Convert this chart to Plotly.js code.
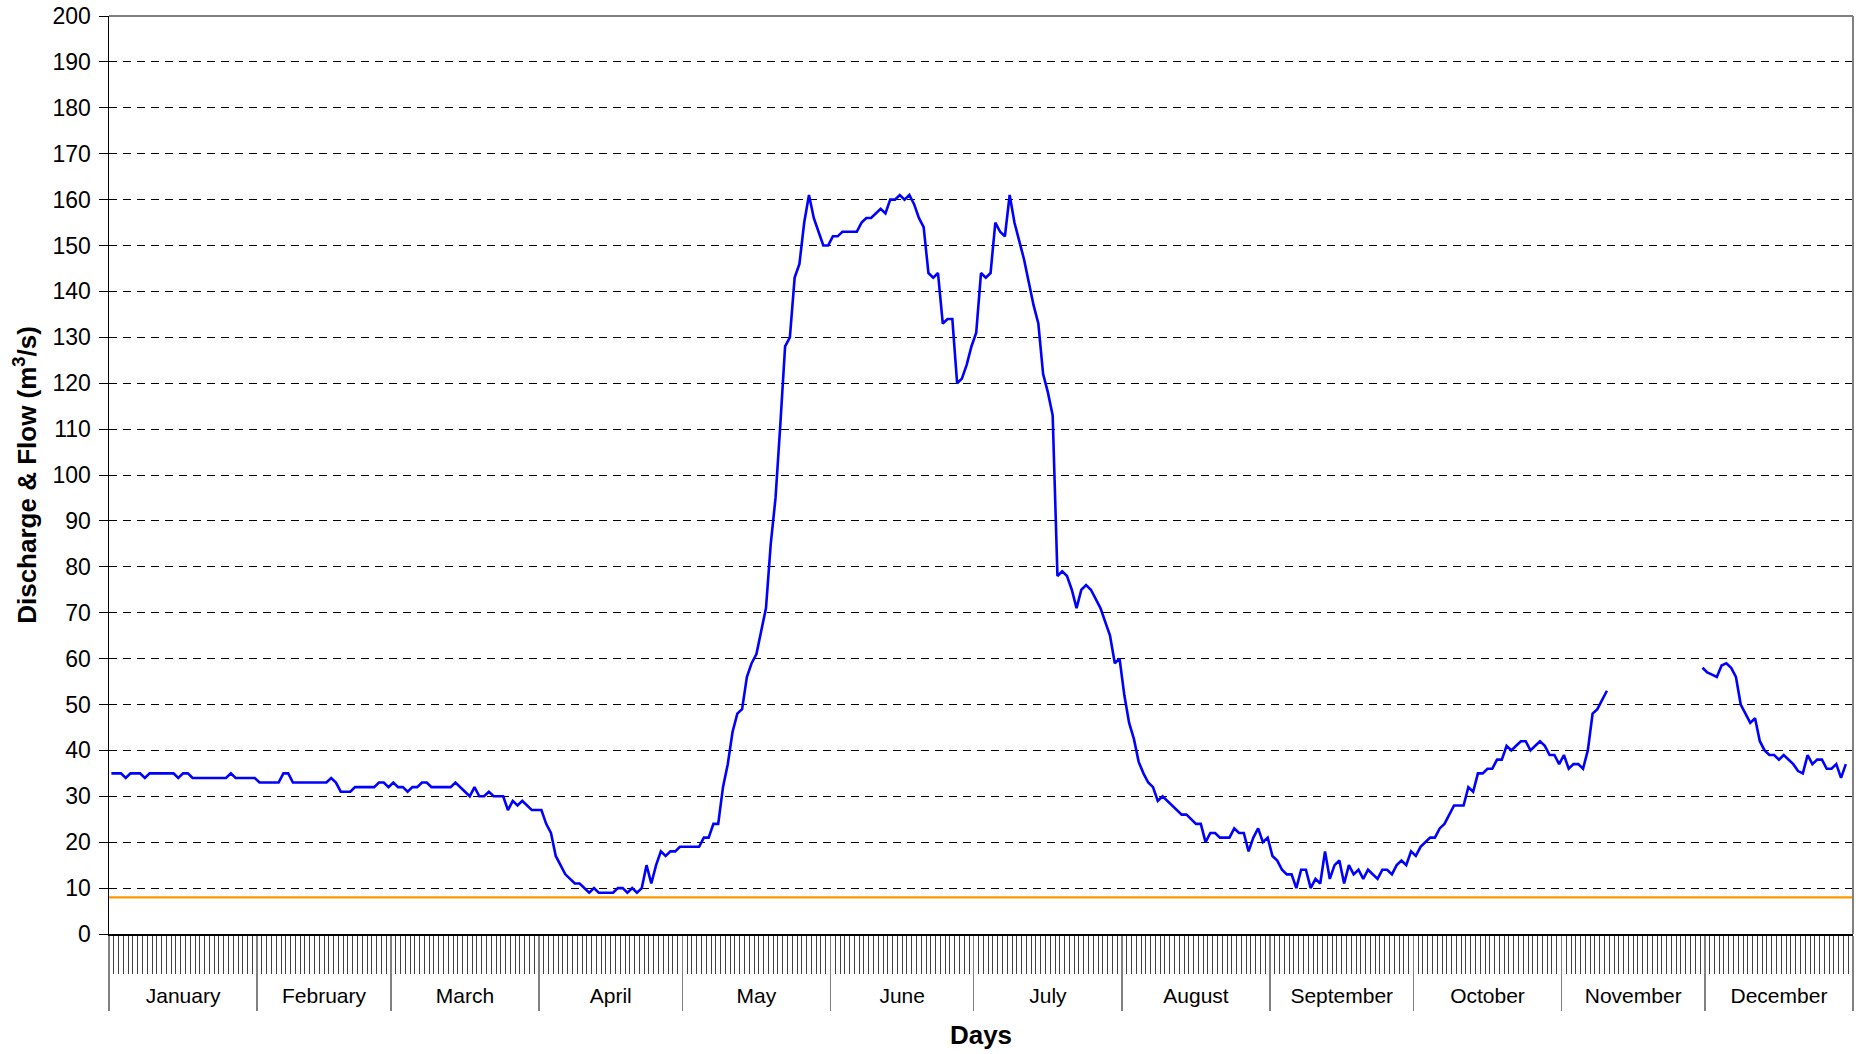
<!DOCTYPE html>
<html>
<head>
<meta charset="utf-8">
<script src="https://cdn.plot.ly/plotly-3.0.1.min.js"></script>
<style>
  html, body { margin: 0; padding: 0; background: #ffffff; }
  #chart { width: 1860px; height: 1054px; }
</style>
</head>
<body>
<div id="chart"></div>
<script>
// Month names and day counts (non-leap year, 365 days)
const monthNames = ["January","February","March","April","May","June","July","August","September","October","November","December"];
const monthDays = [31,28,31,30,31,30,31,31,30,31,30,31];

// Daily discharge (m3/s), one array per month
const janFlow = [35,35,35,34,35,35,35,34,35,35,35,35,35,35,34,35,35,34,34,34,34,34,34,34,34,35,34,34,34,34,34];
const febFlow = [33,33,33,33,33,35,35,33,33,33,33,33,33,33,33,34,33,31,31,31,32,32,32,32,32,33,33,32];
const marFlow = [33,32,32,31,32,32,33,33,32,32,32,32,32,33,32,31,30,32,30,30,31,30,30,30,27,29,28,29,28,27,27];
const aprFlow = [27,24,22,17,15,13,12,11,11,10,9,10,9,9,9,9,10,10,9,10,9,10,15,11,15,18,17,18,18,19];
const mayFlow = [19,19,19,19,21,21,24,24,32,37,44,48,49,56,59,61,66,71,85,95,111,128,130,143,146,155,161,156,153,150,150];
const junFlow = [152,152,153,153,153,153,155,156,156,157,158,157,160,160,161,160,161,159,156,154,144,143,144,133,134,134,120,121,124,128];
const julFlow = [131,144,143,144,155,153,152,161,155,151,147,142,137,133,122,118,113,78,79,78,75,71,75,76,75,73,71,68,65,59,60];
const augFlow = [52,46,42.5,37.5,35,33,32,29,30,29,28,27,26,26,25,24,24,20,22,22,21,21,21,23,22,22,18,21,23,20,21];
const sepFlow = [17,16,14,13,13,10,14,14,10,12,11,18,12,15,16,11,15,13,14,12,14,13,12,14,14,13,15,16,15,18];
const octFlow = [17,19,20,21,21,23,24,26,28,28,28,32,31,35,35,36,36,38,38,41,40,41,42,42,40,41,42,41,39,39,37];
const novFlow = [39,36,37,37,36,40,48,49,51,53,null,null,null,null,null,null,null,null,null,null,null,null,null,null,null,null,null,null,null,58];
const decFlow = [57,56.5,56,58.5,59,58,56,50,48,46,47,42,40,39,39,38,39,38,37,35.5,35,39,37,38,38,36,36,37,34,37,null];

// Minimum flow threshold (m3/s)
const minimumFlow = 8;

// Axis settings
const yTickValues = [0,10,20,30,40,50,60,70,80,90,100,110,120,130,140,150,160,170,180,190,200];

// ---- build series ----
const discharge = [].concat(janFlow, febFlow, marFlow, aprFlow, mayFlow, junFlow, julFlow, augFlow, sepFlow, octFlow, novFlow, decFlow);
const nDays = discharge.length;
const dayCenters = discharge.map((v, i) => i + 0.5);

const monthStarts = [0];
monthDays.forEach(d => monthStarts.push(monthStarts[monthStarts.length - 1] + d));
const monthCenters = monthNames.map((m, i) => (monthStarts[i] + monthStarts[i + 1]) / 2);

const FONT = "Arial, 'Liberation Sans', sans-serif";

const traces = [
  {
    type: "scatter", mode: "lines",
    x: dayCenters, y: discharge,
    xaxis: "x", yaxis: "y",
    line: { color: "#0000FF", width: 2.6 },
    connectgaps: false,
    hoverinfo: "skip", showlegend: false
  },
  {
    type: "scatter", mode: "lines",
    x: [0, nDays], y: [minimumFlow, minimumFlow],
    xaxis: "x2", yaxis: "y",
    line: { color: "#FF9900", width: 2.3 },
    hoverinfo: "skip", showlegend: false
  }
];

const layout = {
  width: 1860, height: 1054,
  margin: { l: 109, r: 7, t: 16, b: 120 },
  paper_bgcolor: "#ffffff", plot_bgcolor: "#ffffff",
  font: { family: FONT, color: "#000000", size: 21 },
  showlegend: false,
  xaxis: {
    type: "linear", range: [0, nDays], fixedrange: true,
    tickmode: "array", tickvals: monthStarts,
    ticks: "outside", ticklen: 75, tickwidth: 1.3, tickcolor: "#808080",
    showticklabels: false,
    showgrid: false, zeroline: false,
    showline: true, linecolor: "#000000", linewidth: 2,
    minor: {
      tickmode: "linear", tick0: 0, dtick: 1,
      ticks: "outside", ticklen: 38, tickwidth: 1, tickcolor: "#404040",
      showgrid: false
    }
  },
  xaxis2: {
    type: "linear", overlaying: "x", matches: "x", anchor: "y", side: "bottom",
    range: [0, nDays], fixedrange: true,
    tickmode: "array", tickvals: monthCenters, ticktext: monthNames,
    ticks: "outside", ticklen: 43, tickcolor: "rgba(0,0,0,0)",
    tickfont: { family: FONT, size: 21, color: "#000000" },
    showgrid: false, zeroline: false, showline: false,
    title: { text: "<b>Days</b>", font: { family: FONT, size: 26, color: "#000000" }, standoff: 19 }
  },
  yaxis: {
    range: [0, 200], fixedrange: true,
    tickmode: "array", tickvals: yTickValues,
    ticks: "outside", ticklen: 9, tickwidth: 1, tickcolor: "#000000",
    ticklabelstandoff: 3,
    tickfont: { family: FONT, size: 23, color: "#000000" },
    showgrid: true, gridcolor: "#000000", gridwidth: 1, griddash: "8px,6px",
    zeroline: false,
    showline: true, linecolor: "#000000", linewidth: 1.5,
    title: { text: "<b>Discharge &amp; Flow (m<sup>3</sup>/s)</b>", font: { family: FONT, size: 26, color: "#000000" }, standoff: 8 }
  },
  shapes: [
    { type: "line", xref: "paper", yref: "paper", x0: 0, x1: 1, y0: 1, y1: 1, line: { color: "#000000", width: 1 } },
    { type: "line", xref: "paper", yref: "paper", x0: 1, x1: 1, y0: 0, y1: 1, line: { color: "#808080", width: 2 } }
  ]
};

Plotly.newPlot("chart", traces, layout, { staticPlot: true, displayModeBar: false });
</script>
</body>
</html>
